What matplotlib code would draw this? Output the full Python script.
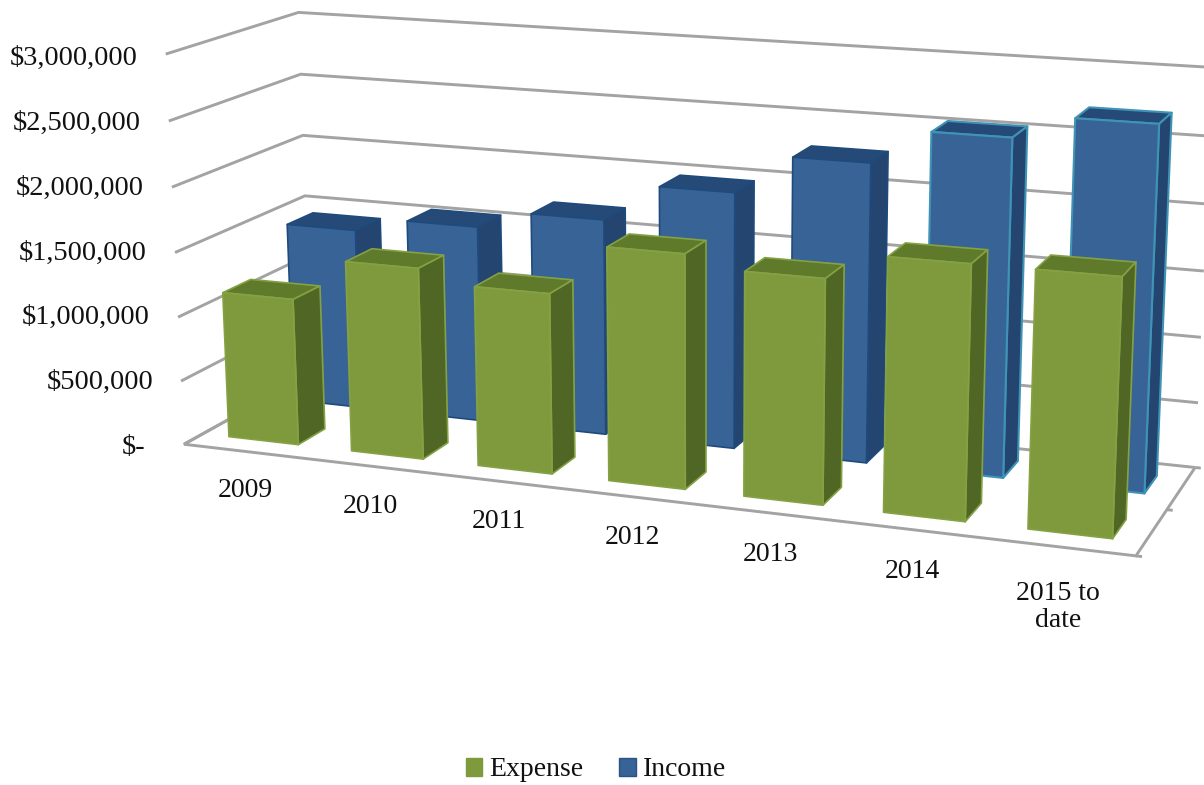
import matplotlib
matplotlib.use('Agg')
import matplotlib.pyplot as plt
from matplotlib.patches import Polygon, Patch
import numpy as np

categories = ['2009', '2010', '2011', '2012', '2013', '2014', '2015 to\ndate']
expense = [1.14, 1.47, 1.37, 1.755, 1.665, 1.86, 1.86]
income = [1.44, 1.55, 1.69, 1.98, 2.28, 2.54, 2.71]
tick_values = [0, 0.5, 1.0, 1.5, 2.0, 2.5, 3.0]
tick_labels = ['$-', '$500,000', '$1,000,000', '$1,500,000', '$2,000,000', '$2,500,000', '$3,000,000']

# camera for the chart box: (category, depth, $M) -> pixel
box_ref = [
    (0, 0, 0, 185, 443), (3, 0, 0, 562, 488), (7, 0, 0, 1136, 557),
    (7, 0.5, 0, 1170, 509), (7, 1, 0, 1193, 466), (0, 1, 0, 312, 378),
    (0, 0, 3, 166, 55), (0, 1, 3, 298, 11), (7, 1, 3, 1213, 70),
    (0, 1, 1.5, 305, 193), (7, 1, 1.5, 1204, 270), (0, 0, 1.5, 175, 253),
]
rows = []
for x, y, z, u, v in box_ref:
    rows.append([x, y, z, 1, 0, 0, 0, 0, -u * x, -u * y, -u * z, -u])
    rows.append([0, 0, 0, 0, x, y, z, 1, -v * x, -v * y, -v * z, -v])
camera = np.linalg.svd(np.array(rows, dtype=float))[2][-1].reshape(3, 4)


def project(x, y, z):
    p = camera @ np.array([x, y, z, 1.0])
    return p[0] / p[2], p[1] / p[2]


plt.rcParams['font.family'] = ['Liberation Serif', 'DejaVu Serif']
fig = plt.figure(figsize=(12.04, 7.85), dpi=100)
ax = fig.add_axes([0, 0, 1, 1])
ax.set_xlim(0, 1204)
ax.set_ylim(785, 0)
ax.axis('off')

grid = '#a3a3a3'
n = len(categories)


def line(pts, lw=2.1):
    xs, ys = zip(*[project(*p) for p in pts])
    ax.plot(xs, ys, color=grid, lw=lw, solid_joinstyle='miter', solid_capstyle='butt', zorder=1)


# walls and floor
for v in tick_values:
    line([(0, 0, v), (0, 1, v), (n, 1, v)])
line([(0, 1, 0), (0, 0, 0), (n, 0, 0), (n, 1, 0)])
line([(n, 0.5, 0), (n + 0.04, 0.5, 0)])
line([(n, 0, 0), (n + 0.04, 0, 0)])
line([(n, 1, 0), (n + 0.04, 1, 0)])


def bar(i, y0, y1, h, front, side, top, edge, z, lw=1.2):
    x0, x1 = i + 0.215, i + 0.785
    faces = [
        ([(x0, y0, h), (x1, y0, h), (x1, y1, h), (x0, y1, h)], top),
        ([(x1, y0, 0), (x1, y1, 0), (x1, y1, h), (x1, y0, h)], side),
        ([(x0, y0, 0), (x1, y0, 0), (x1, y0, h), (x0, y0, h)], front),
    ]
    for pts, color in faces:
        ax.add_patch(Polygon([project(*p) for p in pts], closed=True, facecolor=color,
                             edgecolor=edge, lw=lw, joinstyle='round', zorder=z))


blue_front, blue_side, blue_top = '#376396', '#234570', '#254a78'
green_front, green_side, green_top = '#7f9a3d', '#506625', '#5f7a2b'

# only the last two income columns carry the bright outline
for i, h in enumerate(income):
    if i >= 5:
        bar(i, 0.647, 0.857, h, blue_front, blue_side, blue_top, '#3f93b5', 2, lw=1.5)
    else:
        bar(i, 0.647, 0.857, h, blue_front, blue_side, blue_top, '#1f4a7c', 2)
for i, h in enumerate(expense):
    bar(i, 0.14, 0.35, h, green_front, green_side, green_top, '#84a243', 3)

# value labels follow the slanted left edge, category labels the front edge
for v, label in zip(tick_values, tick_labels):
    px = project(0, 0, v)[0]
    shift = 39 if v == 0 else 28
    ax.text(px - shift, 447.5 - 129.6 * v, label, ha='right', va='center', fontsize=20.5, color='#111111')
for i, label in enumerate(categories):
    px, py = project(i + 0.5, 0, 0)
    if '\n' in label:
        px -= 2
        py += 4
    ax.text(px, py + 27 + 0.5 * i, label, ha='center', va='top', fontsize=20, color='#111111', linespacing=1.1)

handles = [Patch(facecolor=green_front, edgecolor=green_front, label='Expense'),
           Patch(facecolor=blue_front, edgecolor='#2a5282', label='Income')]
ax.legend(handles=handles, ncol=2, frameon=False, fontsize=20, loc='center',
          bbox_to_anchor=(596 / 1204, 1 - 770 / 785), handlelength=0.6, handleheight=0.6,
          handletextpad=0.25, columnspacing=1.3, labelcolor='#111111')

fig.savefig('out.png', dpi=100, facecolor='white')
